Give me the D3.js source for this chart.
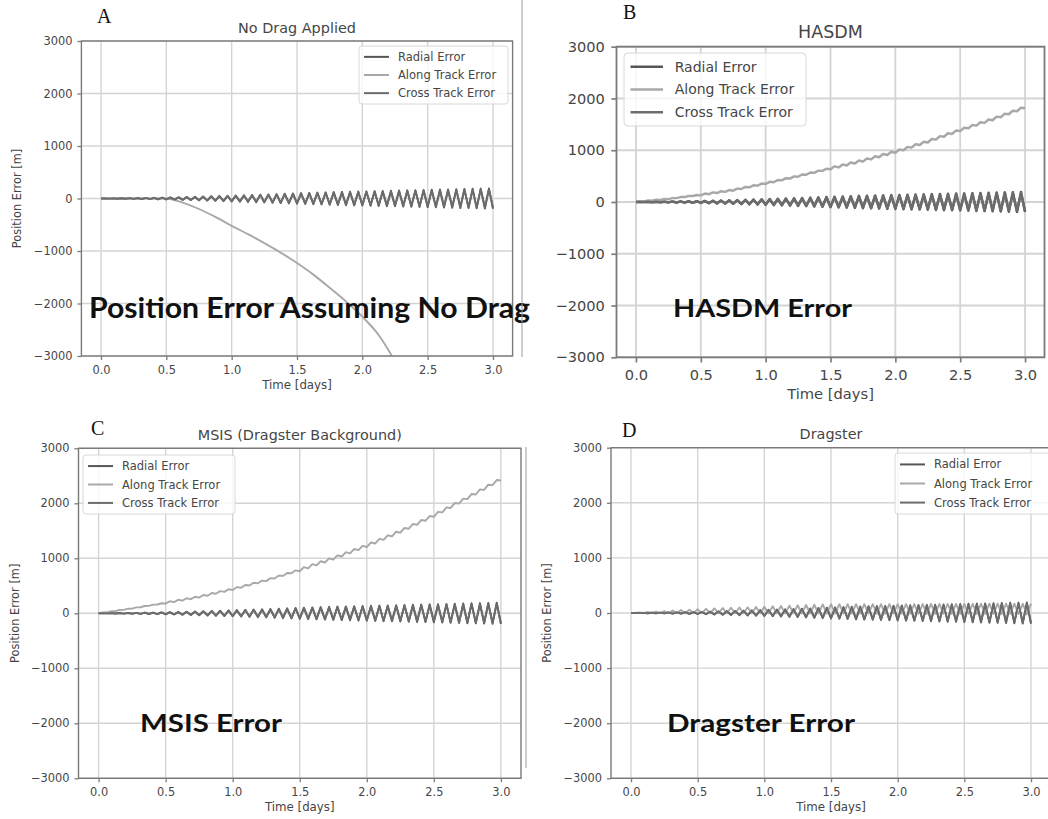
<!DOCTYPE html>
<html>
<head>
<meta charset="utf-8">
<script src="https://cdn.jsdelivr.net/npm/d3@7"></script>
<style>
  body { margin: 0; background: #fff; }
  svg { display: block; }
  text { font-family: "DejaVu Sans", sans-serif; fill: #464646; }
</style>
</head>
<body>
<div id="chart-area"></div>
<script>
// sample times, one every half orbit [days]
let timeDays = [
  0, 0.031, 0.063, 0.094, 0.125, 0.156, 0.188, 0.219,
  0.25, 0.281, 0.313, 0.344, 0.375, 0.406, 0.438, 0.469,
  0.5, 0.531, 0.563, 0.594, 0.625, 0.656, 0.688, 0.719,
  0.75, 0.781, 0.813, 0.844, 0.875, 0.906, 0.938, 0.969,
  1, 1.031, 1.063, 1.094, 1.125, 1.156, 1.188, 1.219,
  1.25, 1.281, 1.313, 1.344, 1.375, 1.406, 1.438, 1.469,
  1.5, 1.531, 1.563, 1.594, 1.625, 1.656, 1.688, 1.719,
  1.75, 1.781, 1.813, 1.844, 1.875, 1.906, 1.938, 1.969,
  2, 2.031, 2.063, 2.094, 2.125, 2.156, 2.188, 2.219,
  2.25, 2.281, 2.313, 2.344, 2.375, 2.406, 2.438, 2.469,
  2.5, 2.531, 2.563, 2.594, 2.625, 2.656, 2.688, 2.719,
  2.75, 2.781, 2.813, 2.844, 2.875, 2.906, 2.938, 2.969,
  3
];

// radial / cross track errors look the same in all four runs [m]
let radialErr = [
  0, 1, -2, 3, -4, 5, -6, 7, -8,
  9, -11, 12, -13, 14, -16, 17, -18,
  20, -22, 24, -27, 29, -31, 33, -35,
  38, -40, 43, -45, 48, -50, 53, -55,
  58, -60, 63, -65, 68, -70, 73, -75,
  78, -81, 84, -88, 91, -94, 97, -100,
  103, -105, 108, -110, 113, -115, 118, -120,
  122, -124, 126, -128, 129, -131, 133, -135,
  137, -139, 141, -143, 144, -146, 148, -150,
  152, -154, 156, -158, 159, -161, 163, -165,
  167, -169, 171, -173, 174, -176, 178, -180,
  182, -184, 186, -188, 189, -191, 193, -195
];
let crossErr = [
  0, 1, -2, 3, -4, 4, -5, 6, -7,
  8, -10, 11, -12, 13, -14, 15, -16,
  18, -20, 22, -24, 26, -28, 30, -32,
  34, -36, 39, -41, 43, -45, 48, -50,
  52, -54, 57, -59, 61, -63, 66, -68,
  70, -73, 76, -79, 82, -85, 87, -90,
  93, -95, 97, -99, 102, -104, 106, -108,
  110, -112, 113, -115, 116, -118, 120, -122,
  123, -125, 127, -129, 130, -131, 133, -135,
  137, -139, 140, -142, 143, -145, 147, -149,
  150, -152, 154, -156, 157, -158, 160, -162,
  164, -166, 167, -169, 170, -172, 174, -176
];

// along track, no drag (smooth, read at fewer points)
let noDragTime = [0, 0.25, 0.5, 0.625, 0.75, 0.875, 1, 1.125, 1.25, 1.375, 1.5, 1.625, 1.75, 1.875, 2, 2.125, 2.25];
let alongNoDrag = [0, 0, 0, -80, -200, -350, -520, -680, -850, -1030, -1230, -1450, -1700, -1960, -2250, -2600, -3100];

let alongHasdm = [
  0, 13, 10, 28, 25, 43, 40, 58, 55,
  75, 75, 95, 95, 115, 115, 135, 128,
  163, 151, 186, 173, 208, 196, 231, 218,
  258, 251, 291, 283, 323, 316, 356, 348,
  390, 383, 425, 418, 460, 453, 495, 488,
  531, 526, 568, 563, 606, 601, 643, 630,
  689, 668, 726, 705, 764, 743, 801, 780,
  841, 823, 884, 865, 926, 908, 969, 950,
  1015, 1000, 1065, 1050, 1115, 1100, 1165, 1150,
  1218, 1205, 1273, 1260, 1328, 1315, 1383, 1370,
  1436, 1423, 1489, 1475, 1541, 1528, 1594, 1580,
  1649, 1638, 1706, 1695, 1764, 1753, 1821, 1810
];
let alongMsis = [
  0, 16, 18, 39, 40, 61, 63, 84, 85,
  108, 110, 133, 135, 158, 160, 183, 175,
  219, 203, 246, 230, 274, 258, 301, 285,
  333, 320, 368, 355, 403, 390, 438, 425,
  475, 465, 515, 505, 555, 545, 595, 585,
  639, 633, 686, 680, 734, 728, 781, 765,
  841, 818, 894, 870, 946, 923, 999, 975,
  1054, 1033, 1111, 1090, 1169, 1148, 1226, 1205,
  1288, 1270, 1353, 1335, 1418, 1400, 1483, 1465,
  1551, 1538, 1624, 1610, 1696, 1683, 1769, 1755,
  1845, 1835, 1925, 1915, 2005, 1995, 2085, 2075,
  2168, 2160, 2253, 2245, 2338, 2330, 2423, 2415
];
let alongDragster = [
  0, 0, 9, -1, 18, -1, 26, -1, 35,
  -2, 44, -2, 53, -3, 61, -3, 70,
  -3, 76, -4, 83, -4, 89, -5, 95,
  -5, 100, -5, 105, -6, 110, -6, 115,
  -7, 121, -7, 128, -7, 134, -8, 140,
  -8, 145, -9, 150, -9, 155, -9, 160,
  -10, 160, -10, 160, -11, 160, -11, 160,
  -11, 160, -12, 160, -12, 160, -13, 160,
  -13, 161, -13, 162, -14, 163, -14, 165,
  -15, 165, -15, 165, -15, 165, -16, 165,
  -16, 166, -17, 168, -17, 169, -17, 170,
  -18, 170, -18, 170, -19, 170, -19, 170
];

let xTicks = [0, 0.5, 1, 1.5, 2, 2.5, 3];
let yTicks = [-3000, -2000, -1000, 0, 1000, 2000, 3000];
let seriesNames = ['Radial Error', 'Along Track Error', 'Cross Track Error'];
let seriesColors = ['#565656', '#a8a8a8', '#6c6c6c'];

let width = 1048;
let height = 819;

let svg = d3.select('#chart-area').append('svg')
  .attr('width', width)
  .attr('height', height);

// layout of the four pasted plots (B was pasted a bit larger)
let panels = [
  { letter: 'A', lx: 97, ly: 23, title: 'No Drag Applied', along: alongNoDrag, alongT: noDragTime, smooth: true,
    left: 81.4, right: 512.6, top: 41, bottom: 356, k: 1, ylabel: true,
    legend: { x: 359, y: 46, w: 149, h: 58 },
    note: 'Position Error Assuming No Drag', nx: 89, ny: 318, nw: 441, nfs: 29 },
  { letter: 'B', lx: 623, ly: 19, title: 'HASDM', along: alongHasdm, alongT: timeDays,
    left: 616.5, right: 1044.5, top: 46.7, bottom: 357.3, k: 1.3, ylabel: false,
    legend: { x: 624, y: 53, w: 182, h: 73 },
    note: 'HASDM Error', nx: 673, ny: 317, nw: 179, nfs: 25 },
  { letter: 'C', lx: 91, ly: 435, title: 'MSIS (Dragster Background)', along: alongMsis, alongT: timeDays,
    left: 78.5, right: 521, top: 448.3, bottom: 778.3, k: 1, ylabel: true,
    legend: { x: 83, y: 455, w: 152, h: 59 },
    note: 'MSIS Error', nx: 140, ny: 732, nw: 142, nfs: 25 },
  { letter: 'D', lx: 622, ly: 437, title: 'Dragster', along: alongDragster, alongT: timeDays,
    left: 611, right: 1051, top: 447.7, bottom: 778.3, k: 1, ylabel: true,
    legend: { x: 895, y: 453, w: 170, h: 61 },
    note: 'Dragster Error', nx: 667, ny: 732, nw: 188, nfs: 25 }
];

let minus = d => d < 0 ? '\u2212' + Math.abs(d) : String(d);

panels.forEach((p, pi) => {
  let k = p.k;
  let g = svg.append('g');

  let x = d3.scaleLinear().domain([-0.15, 3.15]).range([p.left, p.right]);
  let y = d3.scaleLinear().domain([-3000, 3000]).range([p.bottom, p.top]);

  // grid
  g.selectAll('.vgrid').data(xTicks).enter().append('line')
    .attr('x1', d => x(d)).attr('x2', d => x(d))
    .attr('y1', p.top).attr('y2', p.bottom)
    .attr('stroke', '#d4d4d4').attr('stroke-width', 1.4 * k);
  g.selectAll('.hgrid').data(yTicks).enter().append('line')
    .attr('x1', p.left).attr('x2', p.right)
    .attr('y1', d => y(d)).attr('y2', d => y(d))
    .attr('stroke', '#d4d4d4').attr('stroke-width', 1.4 * k);

  // axes
  let fs = (k > 1 ? 14.6 : 11.4);
  let xAxis = g.append('g')
    .attr('transform', `translate(0, ${p.bottom})`)
    .call(d3.axisBottom(x).tickValues(xTicks).tickFormat(d3.format('.1f'))
      .tickSize(4 * k).tickPadding(5.5 * k));
  let yAxis = g.append('g')
    .attr('transform', `translate(${p.left}, 0)`)
    .call(d3.axisLeft(y).tickValues(yTicks).tickFormat(minus)
      .tickSize(4 * k).tickPadding(5 * k));
  [xAxis, yAxis].forEach(a => {
    a.select('.domain').remove();
    a.selectAll('line').attr('stroke', '#7c7c7c').attr('stroke-width', 1.3 * k);
    a.selectAll('text')
      .style('font-family', '"DejaVu Sans", sans-serif')
      .style('font-size', fs + 'px')
      .attr('fill', '#474747');
  });

  // lines
  let clipId = 'clip' + pi;
  svg.append('clipPath').attr('id', clipId)
    .append('rect')
    .attr('x', p.left).attr('y', p.top)
    .attr('width', p.right - p.left).attr('height', p.bottom - p.top);

  let line = d3.line().x(d => x(d[0])).y(d => y(d[1]));
  let smoothLine = d3.line().x(d => x(d[0])).y(d => y(d[1])).curve(d3.curveMonotoneX);
  let series = [
    d3.zip(timeDays, radialErr),
    d3.zip(p.alongT, p.along),
    d3.zip(timeDays, crossErr)
  ];
  g.append('g').attr('clip-path', `url(#${clipId})`)
    .selectAll('path').data(series).enter().append('path')
    .attr('d', (d, i) => (i === 1 && p.smooth) ? smoothLine(d) : line(d))
    .attr('fill', 'none')
    .attr('stroke', (d, i) => seriesColors[i])
    .attr('stroke-width', 1.9 * k)
    .attr('stroke-linejoin', 'round');

  // spines
  g.append('rect')
    .attr('x', p.left).attr('y', p.top)
    .attr('width', p.right - p.left).attr('height', p.bottom - p.top)
    .attr('fill', 'none').attr('stroke', '#7a7a7a').attr('stroke-width', 1.4 * k);

  // title + labels
  g.append('text')
    .attr('x', (p.left + p.right) / 2).attr('y', p.top - 8.5)
    .attr('text-anchor', 'middle')
    .style('font-size', (k > 1 ? 17.5 : 14.4) + 'px')
    .text(p.title);
  g.append('text')
    .attr('x', (p.left + p.right) / 2).attr('y', p.bottom + (k > 1 ? 42 : 33))
    .attr('text-anchor', 'middle')
    .style('font-size', (k > 1 ? 14.7 : 11.8) + 'px')
    .text('Time [days]');
  if (p.ylabel) {
    g.append('text')
      .attr('transform', `translate(${p.left - 60}, ${(p.top + p.bottom) / 2}) rotate(-90)`)
      .attr('text-anchor', 'middle')
      .style('font-size', '11.4px')
      .text('Position Error [m]');
  }

  // legend
  let L = p.legend;
  let lg = g.append('g');
  lg.append('rect')
    .attr('x', L.x).attr('y', L.y).attr('width', L.w).attr('height', L.h)
    .attr('rx', 3 * k)
    .attr('fill', '#fff').attr('fill-opacity', 0.8)
    .attr('stroke', '#d8d8d8');
  let rowH = L.h / 3.2;
  seriesNames.forEach((name, i) => {
    let ry = L.y + rowH * (i + 0.6);
    lg.append('line')
      .attr('x1', L.x + 5 * k).attr('x2', L.x + 5 * k + 25 * k)
      .attr('y1', ry).attr('y2', ry)
      .attr('stroke', seriesColors[i]).attr('stroke-width', 2 * k);
    lg.append('text')
      .attr('x', L.x + 39 * k).attr('y', ry)
      .attr('dy', '0.35em')
      .style('font-size', (k > 1 ? 14 : 11.5) + 'px')
      .text(name);
  });

  // pasted-on caption
  g.append('text')
    .attr('x', p.nx).attr('y', p.ny)
    .attr('textLength', p.nw).attr('lengthAdjust', 'spacingAndGlyphs')
    .style('font-family', 'Lato, "Open Sans", sans-serif')
    .style('font-weight', 700)
    .style('font-size', p.nfs + 'px')
    .style('fill', '#111')
    .text(p.note);

  // panel letter
  g.append('text')
    .attr('x', p.lx).attr('y', p.ly)
    .style('font-family', '"Liberation Serif", serif')
    .style('font-size', '20px')
    .style('fill', '#111')
    .text(p.letter);
});

// edges of the pasted images
svg.append('line').attr('x1', 522).attr('x2', 522).attr('y1', 0).attr('y2', 357)
  .attr('stroke', '#9a9a9a').attr('stroke-width', 1);
svg.append('line').attr('x1', 526).attr('x2', 526).attr('y1', 447).attr('y2', 768)
  .attr('stroke', '#9a9a9a').attr('stroke-width', 1);
</script>
</body>
</html>
